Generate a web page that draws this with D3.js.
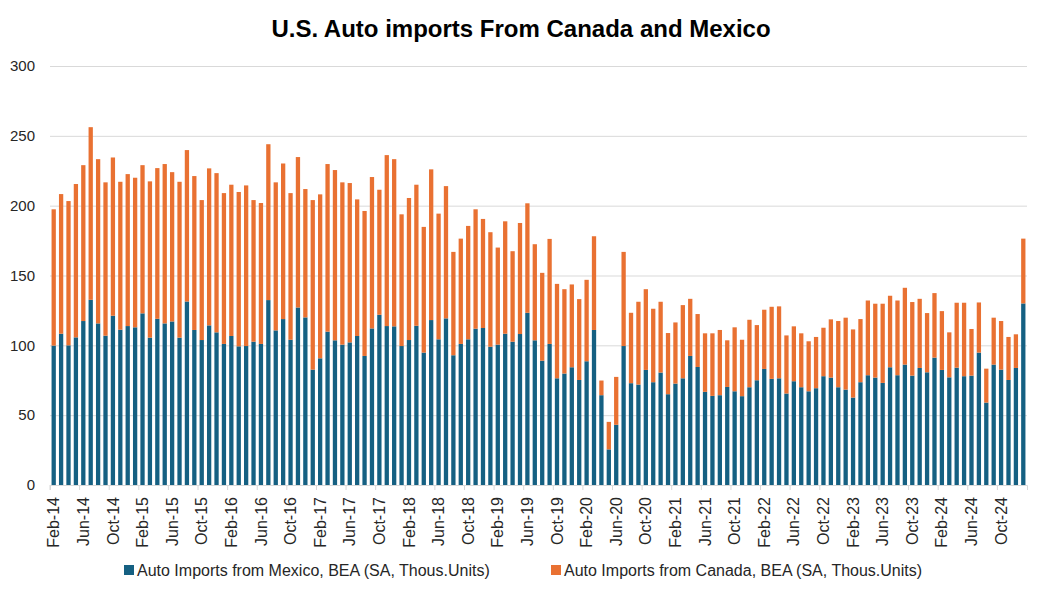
<!DOCTYPE html>
<html>
<head>
<meta charset="utf-8">
<script src="https://cdn.jsdelivr.net/npm/d3@7"></script>
<style>
  body { margin: 0; background: #fff; }
  svg { font-family: "Liberation Sans", Arial, sans-serif; }
</style>
</head>
<body>
<div id="chart"></div>
<script>
const colorMexico = '#156082';
const colorCanada = '#e97132';
const gridColor = '#d9d9d9';

// monthly, Feb-14 .. Jan-25
const months = d3.timeMonths(new Date(2014, 1, 1), new Date(2025, 1, 1));

const tickLabels = ['Feb-14','Jun-14','Oct-14','Feb-15','Jun-15','Oct-15','Feb-16','Jun-16','Oct-16',
  'Feb-17','Jun-17','Oct-17','Feb-18','Jun-18','Oct-18','Feb-19','Jun-19','Oct-19','Feb-20','Jun-20',
  'Oct-20','Feb-21','Jun-21','Oct-21','Feb-22','Jun-22','Oct-22','Feb-23','Jun-23','Oct-23','Feb-24',
  'Jun-24','Oct-24'];

const yTicks = [0, 50, 100, 150, 200, 250, 300];

// Auto Imports from Mexico, BEA (SA, Thous.Units)
const mexico = [
  99.8, 108.3, 100.0, 105.7, 117.4, 132.6, 115.7, 106.9, 121.2, 111.2, 113.8,
  112.9, 122.9, 105.5, 119.0, 115.7, 117.1, 105.5, 131.4, 111.0, 103.8, 114.3, 109.3,
  101.0, 106.7, 99.3, 99.5, 102.6, 101.0, 132.4, 110.7, 118.8, 104.0, 127.1, 120.0,
  82.6, 90.7, 109.8, 103.6, 100.5, 102.1, 106.7, 92.4, 112.1, 121.9, 113.8, 113.6,
  99.5, 103.8, 114.0, 94.8, 118.1, 104.3, 119.3, 92.9, 101.0, 104.3, 111.9, 112.4,
  99.0, 100.5, 108.3, 102.6, 108.1, 123.3, 103.6, 89.0, 101.0, 76.4, 79.8, 84.3,
  75.2, 88.6, 111.0, 64.3, 25.5, 43.1, 99.5, 72.9, 71.9, 82.4, 73.6, 80.5,
  65.0, 72.6, 76.4, 92.4, 84.5, 66.7, 63.8, 64.3, 70.2, 67.1, 63.6, 70.0,
  75.0, 83.1, 76.0, 76.4, 65.5, 74.3, 70.0, 67.1, 69.3, 77.9, 76.9, 70.0,
  68.3, 62.6, 73.6, 78.6, 76.9, 73.1, 84.3, 78.6, 86.2, 78.3, 83.8, 80.7,
  91.2, 82.4, 77.1, 84.0, 77.9, 78.3, 94.8, 59.0, 86.2, 82.6, 75.2, 83.8,
  130.0
];

// Auto Imports from Canada, BEA (SA, Thous.Units)
const canada = [
  97.6, 100.0, 103.3, 109.8, 111.6, 123.6, 117.6, 109.8, 113.3, 105.9, 108.8,
  107.1, 106.1, 111.9, 107.9, 114.1, 106.9, 111.6, 108.4, 110.2, 100.2, 112.4, 114.0,
  108.0, 108.3, 110.5, 115.0, 101.4, 100.9, 111.6, 106.0, 111.4, 105.0, 107.7, 91.9,
  121.4, 117.4, 120.0, 121.9, 116.2, 114.1, 97.8, 103.8, 108.4, 89.5, 122.4, 119.7,
  94.3, 101.7, 101.0, 90.0, 107.9, 90.0, 94.7, 74.0, 75.4, 81.2, 85.5, 78.1,
  82.0, 69.5, 80.5, 64.8, 79.5, 78.4, 68.8, 62.9, 75.2, 67.6, 60.4, 59.3,
  57.9, 58.3, 67.1, 10.5, 19.7, 34.3, 67.4, 50.4, 59.3, 57.8, 52.6, 50.7,
  43.8, 43.8, 52.4, 40.9, 37.9, 41.9, 44.8, 46.7, 33.4, 45.8, 40.4, 48.3,
  39.5, 42.4, 51.6, 51.5, 41.6, 39.3, 38.6, 35.8, 36.7, 34.7, 41.7, 47.4,
  51.5, 48.8, 45.2, 53.5, 52.9, 56.7, 51.2, 53.5, 55.0, 52.7, 49.5, 42.4,
  46.2, 42.1, 32.2, 46.5, 52.6, 33.4, 35.9, 24.3, 33.6, 34.8, 30.8, 24.1,
  46.4
];

const seriesNames = ['Auto Imports from Mexico, BEA (SA, Thous.Units)',
                     'Auto Imports from Canada, BEA (SA, Thous.Units)'];

function chart() {
    const W = 1044, H = 594;
    const margin = {top: 66, right: 17, bottom: 109, left: 50};
    const width = W - margin.left - margin.right;
    const height = H - margin.top - margin.bottom;
    const fmt = d3.timeFormat('%b-%y');

    const data = months.map((m, i) => ({month: fmt(m), mexico: mexico[i], canada: canada[i]}));

    const svg = d3.select('#chart')
        .append('svg')
        .attr('width', W)
        .attr('height', H);

    // title
    svg.append('text')
        .attr('x', 521)
        .attr('y', 37)
        .attr('text-anchor', 'middle')
        .style('font-size', '24px')
        .style('font-weight', 'bold')
        .style('fill', '#000')
        .text('U.S. Auto imports From Canada and Mexico');

    const g = svg.append('g')
        .attr('transform', `translate(${margin.left}, ${margin.top})`);

    const x = d3.scaleBand()
        .domain(data.map(d => d.month))
        .range([0, width])
        .paddingInner(0.42)
        .paddingOuter(0.21);

    const y = d3.scaleLinear()
        .domain([0, 300])
        .range([height, 0]);

    // y axis with gridlines
    const yAxis = g.append('g')
        .call(d3.axisLeft(y).tickValues(yTicks).tickSize(-width).tickPadding(15));
    yAxis.select('.domain').remove();
    yAxis.selectAll('.tick line').attr('stroke', gridColor);
    yAxis.selectAll('.tick text')
        .style('font-size', '15px')
        .style('fill', '#262626');

    // stacked bars
    const stack = d3.stack().keys(['mexico', 'canada'])(data);
    const colors = {mexico: colorMexico, canada: colorCanada};

    g.selectAll('g.series')
        .data(stack)
        .enter()
        .append('g')
        .attr('class', 'series')
        .attr('fill', d => colors[d.key])
        .selectAll('rect')
        .data(d => d)
        .enter()
        .append('rect')
        .attr('x', d => x(d.data.month))
        .attr('y', d => y(d[1]))
        .attr('width', x.bandwidth())
        .attr('height', d => y(d[0]) - y(d[1]));

    // x axis
    const xAxis = g.append('g')
        .attr('transform', `translate(0, ${height})`)
        .call(d3.axisBottom(x).tickValues(tickLabels).tickSize(5).tickSizeOuter(5));
    xAxis.select('.domain').attr('stroke', gridColor);
    xAxis.selectAll('.tick line')
        .attr('stroke', gridColor)
        .attr('x1', -x.step() / 2)
        .attr('x2', -x.step() / 2);
    xAxis.selectAll('.tick text')
        .attr('transform', 'rotate(-90)')
        .attr('x', -12)
        .attr('y', 0)
        .attr('dy', '0.35em')
        .style('text-anchor', 'end')
        .style('font-size', '16px')
        .style('fill', '#262626');

    // legend
    const legend = svg.append('g');
    const legendPos = [124, 551];
    seriesNames.forEach((name, i) => {
        legend.append('rect')
            .attr('x', legendPos[i])
            .attr('y', 565)
            .attr('width', 10)
            .attr('height', 10)
            .attr('fill', i === 0 ? colorMexico : colorCanada);
        legend.append('text')
            .attr('x', legendPos[i] + 13)
            .attr('y', 576)
            .style('font-size', '16px')
            .style('fill', '#262626')
            .text(name);
    });
}

function main() {
    chart();
}

main();
</script>
</body>
</html>
